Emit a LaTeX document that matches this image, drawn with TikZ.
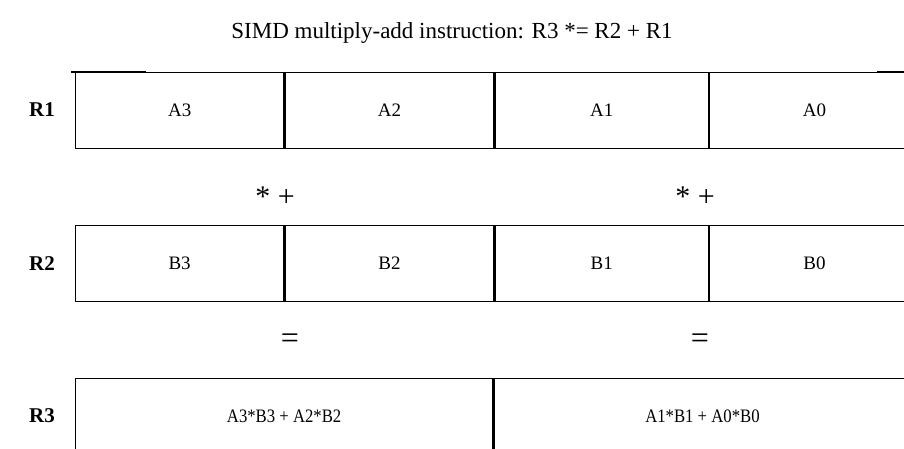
\documentclass[tikz,border=0pt]{standalone}
\usepackage{fontspec}
\setmainfont{Liberation Serif}
\begin{document}
\begin{tikzpicture}[x=1pt,y=-1pt,
  cell/.style={draw,line width=1.3pt,minimum height=76pt,inner sep=0pt,anchor=north west,font=\fontsize{19}{22}\selectfont},
  reglabel/.style={font=\bfseries\fontsize{21}{25}\selectfont},
  op/.style={font=\fontsize{30}{34}\selectfont,anchor=base,inner sep=0pt},
  stray/.style={line width=2pt}]
\useasboundingbox (0,0) rectangle (904,448);
\clip (0,0) rectangle (904,448);
\node[font=\fontsize{23}{27}\selectfont] (title) at (452,33) {SIMD multiply-add instruction: R3 *= R2 + R1};
% R1
\node[reglabel] (r1) at (42,110) {R1};
\node[cell,minimum width=208pt] (a3) at (75,72) {A3};
\node[cell,minimum width=209pt] (a2) at (a3.north east) {A2};
\node[cell,minimum width=213pt] (a1) at (a2.north east) {A1};
\node[cell,minimum width=210pt] (a0) at (a1.north east) {A0};
\coordinate (s1a) at (71,71.5);
\coordinate (s1b) at (146,71.5);
\coordinate (s2a) at (877,71.5);
\coordinate (s2b) at (904,71.5);
\draw[stray] (s1a) -- (s1b);
\draw[stray] (s2a) -- (s2b);
% ops
\node[op] (op1) at (275,206) {* +};
\node[op] (op2) at (695,206) {* +};
% R2
\node[reglabel] (r2) at (42,264) {R2};
\node[cell,minimum width=208pt] (b3) at (75,225) {B3};
\node[cell,minimum width=209pt] (b2) at (b3.north east) {B2};
\node[cell,minimum width=213pt] (b1) at (b2.north east) {B1};
\node[cell,minimum width=210pt] (b0) at (b1.north east) {B0};
% equals
\node[op,font=\fontsize{32}{36}\selectfont] (eq1) at (290,348) {=};
\node[op,font=\fontsize{32}{36}\selectfont] (eq2) at (700,348) {=};
% R3
\node[reglabel] (r3) at (42,416) {R3};
\node[cell,minimum width=417pt] (c1) at (75,378) {\scalebox{0.88}[1]{A3*B3 + A2*B2}};
\node[cell,minimum width=417pt] (c0) at (c1.north east) {\scalebox{0.88}[1]{A1*B1 + A0*B0}};
\end{tikzpicture}
\end{document}
